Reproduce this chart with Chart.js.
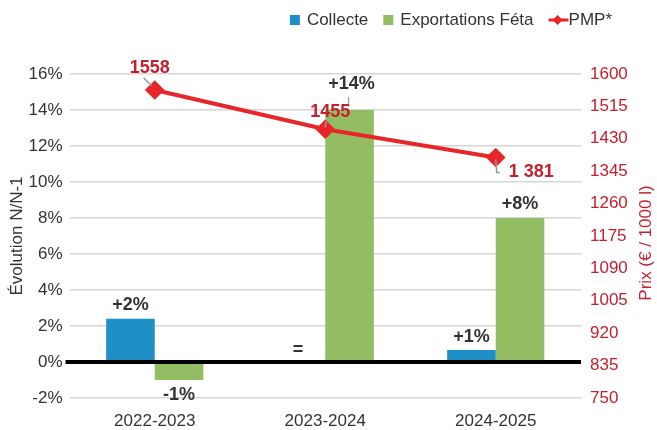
<!DOCTYPE html>
<html>
<head>
<meta charset="utf-8">
<script src="https://cdn.jsdelivr.net/npm/chart.js@4"></script>
<style>
  html, body { margin: 0; padding: 0; background: #fff; }
  #wrap { width: 657px; height: 430px; }
</style>
</head>
<body>
<div id="wrap"><canvas id="chart" width="657" height="430"></canvas></div>
<script>
// --- Data ---
const campaigns   = ['2022-2023', '2023-2024', '2024-2025'];
const collecte    = [2.4, 0, 0.67];
const exportFeta  = [-1, 14, 8];
const pmp         = [1558, 1455, 1381];
const collecteLbl = ['+2%', '=', '+1%'];
const exportLbl   = ['-1%', '+14%', '+8%'];
const pmpLbl      = ['1558', '1455', '1 381'];

// --- Colours / fonts ---
const BLUE  = '#1f90c7';
const GREEN = '#93bd63';
const RED   = '#e8262a';
const DARK_RED = '#c4202e';
const TEXT  = '#333333';
const FONT  = '"Liberation Sans", Arial, sans-serif';

// --- Legend + right axis title (drawn by hand) ---
const legendPlugin = {
  id: 'customLegend',
  afterDraw(chart) {
    const c = chart.ctx;
    c.save();
    c.font = '17px ' + FONT;
    c.textBaseline = 'middle';
    const y = 20;
    const items = [
      { text: 'Collecte', kind: 'box', color: BLUE },
      { text: 'Exportations Féta', kind: 'box', color: GREEN },
      { text: 'PMP*', kind: 'line', color: RED }
    ];
    const iconW = it => it.kind === 'box' ? 10 : 20;
    const gapIcon = 7, gapItem = 15;
    let total = 0;
    items.forEach((it, i) => {
      total += iconW(it) + (it.kind === 'box' ? gapIcon : 0) + c.measureText(it.text).width;
      if (i < items.length - 1) total += gapItem;
    });
    let x = 612 - total;
    items.forEach(it => {
      if (it.kind === 'box') {
        c.fillStyle = it.color;
        c.fillRect(x, y - 5, 10, 10);
        x += 10 + gapIcon;
      } else {
        c.strokeStyle = it.color; c.lineWidth = 3;
        c.beginPath(); c.moveTo(x, y); c.lineTo(x + 20, y); c.stroke();
        c.fillStyle = it.color;
        c.beginPath(); c.moveTo(x + 9, y - 5); c.lineTo(x + 14, y); c.lineTo(x + 9, y + 5); c.lineTo(x + 4, y); c.closePath(); c.fill();
        x += 20;
      }
      c.fillStyle = TEXT;
      c.fillText(it.text, x, y);
      x += c.measureText(it.text).width + gapItem;
    });

    // right axis title, reading bottom to top
    const area = chart.chartArea;
    c.translate(646, (area.top + area.bottom) / 2 + 7);
    c.rotate(-Math.PI / 2);
    c.textAlign = 'center';
    c.fillStyle = DARK_RED;
    c.fillText('Prix (€ / 1000 l)', 0, 0);
    c.restore();
  }
};

// --- Value labels ---
const labelPlugin = {
  id: 'valueLabels',
  afterDatasetsDraw(chart) {
    const c = chart.ctx;
    const b0 = chart.getDatasetMeta(0).data;  // Collecte
    const b1 = chart.getDatasetMeta(1).data;  // Exportations
    const p  = chart.getDatasetMeta(2).data;  // PMP
    c.save();
    c.textAlign = 'center';
    c.textBaseline = 'middle';
    c.font = 'bold 18px ' + FONT;
    c.fillStyle = TEXT;

    c.fillText(collecteLbl[0], b0[0].x, b0[0].y - 14);
    c.fillText(collecteLbl[1], b0[1].x - 3, b0[1].y - 12);
    c.fillText(collecteLbl[2], b0[2].x, b0[2].y - 13);

    c.fillText(exportLbl[0], b1[0].x, b1[0].y + 15);
    c.fillText(exportLbl[1], b1[1].x + 2, b1[1].y - 26);
    c.fillText(exportLbl[2], b1[2].x, b1[2].y - 14);

    c.strokeStyle = '#9a9a9a'; c.lineWidth = 1.2;
    c.beginPath(); c.moveTo(b1[1].x - 1, b1[1].y - 13); c.lineTo(b1[1].x - 1, b1[1].y - 3); c.stroke();

    // PMP labels with little leader lines
    c.lineWidth = 1.5;
    c.beginPath(); c.moveTo(p[0].x - 11, p[0].y - 12); c.lineTo(p[0].x - 3, p[0].y - 4); c.stroke();
    c.beginPath(); c.moveTo(p[1].x + 1, p[1].y - 8); c.lineTo(p[1].x, p[1].y - 2); c.stroke();
    c.beginPath(); c.moveTo(p[2].x, p[2].y + 2); c.lineTo(p[2].x + 1, p[2].y + 15); c.lineTo(p[2].x + 4, p[2].y + 15); c.stroke();

    c.fillStyle = DARK_RED;
    c.fillText(pmpLbl[0], p[0].x - 5, p[0].y - 22);
    c.fillText(pmpLbl[1], p[1].x + 5, p[1].y - 17);
    c.textAlign = 'left';
    c.fillText(pmpLbl[2], p[2].x + 13, p[2].y + 15);
    c.restore();
  }
};

const ctx = document.getElementById('chart').getContext('2d');
const chart = new Chart(ctx, {
  data: {
    labels: campaigns,
    datasets: [
      { type: 'bar', label: 'Collecte', data: collecte, yAxisID: 'y', order: 1,
        backgroundColor: BLUE, categoryPercentage: 0.57, barPercentage: 1 },
      { type: 'bar', label: 'Exportations Féta', data: exportFeta, yAxisID: 'y', order: 1,
        backgroundColor: GREEN, categoryPercentage: 0.57, barPercentage: 1 },
      { type: 'line', label: 'PMP*', data: pmp, yAxisID: 'y1', order: 0,
        borderColor: RED, backgroundColor: RED, borderWidth: 4,
        pointStyle: 'rectRot', pointRadius: 7, pointHoverRadius: 7,
        pointBackgroundColor: RED, pointBorderColor: RED }
    ]
  },
  options: {
    responsive: false,
    animation: false,
    layout: { autoPadding: false, padding: { top: 74, right: 1, left: 7, bottom: 0 } },
    plugins: {
      tooltip: { enabled: false },
      legend: { display: false }
    },
    scales: {
      x: {
        grid: { display: false, drawTicks: false },
        border: { display: false },
        ticks: { color: TEXT, font: { family: FONT, size: 17 }, padding: 13 },
        afterFit(s) { s.height = 32; }
      },
      y: {
        position: 'left',
        min: -2, max: 16,
        ticks: { stepSize: 2, color: TEXT, callback: v => v + '%',
                 font: { family: FONT, size: 17 }, padding: 3 },
        grid: {
          color: c => c.tick.value === 0 ? '#000' : '#d6d6d6',
          lineWidth: c => c.tick.value === 0 ? 4 : 1.5,
          tickColor: c => c.tick.value === 0 ? '#000' : 'rgba(0,0,0,0)',
          tickLength: 4
        },
        border: { display: false },
        title: { display: true, text: 'Évolution N/N-1', color: TEXT, padding: 0,
                 font: { family: FONT, size: 17 } },
        afterFit(s) { s.width = 62.5; }
      },
      y1: {
        position: 'right',
        min: 750, max: 1600,
        ticks: { stepSize: 85, color: DARK_RED, callback: v => String(v),
                 font: { family: FONT, size: 17 }, padding: 9 },
        grid: { drawOnChartArea: false, drawTicks: false },
        border: { display: false },
        afterFit(s) { s.width = 75; }
      }
    }
  },
  plugins: [labelPlugin, legendPlugin]
});
</script>
</body>
</html>
